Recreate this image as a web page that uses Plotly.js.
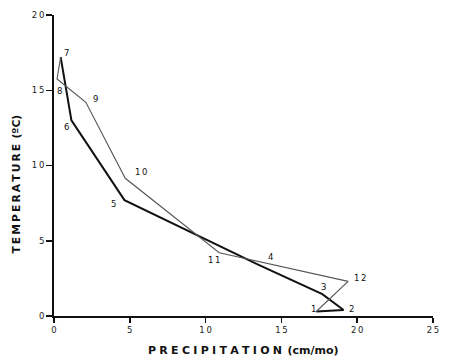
<!DOCTYPE html>
<html>
<head>
<meta charset="utf-8">
<script src="https://cdn.plot.ly/plotly-3.0.1.min.js"></script>
<style>
html,body{margin:0;padding:0;background:#fff;}
#chart{width:450px;height:361px;}
</style>
</head>
<body>
<div id="chart"></div>
<script>
// Months 1..12 : precipitation (cm/mo) and temperature (°C)
const months = ["1","2","3","4","5","6","7","8","9","10","11","12"];
const precip = [17.3, 19.1, 17.7, 13.5, 4.65, 1.15, 0.44, 0.2, 2.1, 4.7, 10.9, 19.4];
const temp   = [0.3, 0.4, 1.45, 3.4, 7.7, 13.0, 17.2, 15.75, 14.2, 9.15, 4.2, 2.3];
// label positions (data units) for month numbers
const labelX = [17.1, 19.6, 17.8, 14.3, 3.95, 0.85, 0.85, 0.35, 2.75, 5.8, 10.6, 20.2];
const labelY = [0.45, 0.45, 1.95, 3.9, 7.45, 12.55, 17.45, 14.95, 14.45, 9.6, 3.75, 2.5];
const xTicks = [0, 5, 10, 15, 20, 25];
const yTicks = [0, 5, 10, 15, 20];
const xTitle = 'PRECIPITATION';
const xUnit = '(cm/mo)';
const yTitle = 'TEMPERATURE';
const yUnit = '(ºC)';

// thick segment: Jan -> Jul ; thin segment: Jul -> Dec -> Jan
const thickIdx = [0,1,2,3,4,5,6];
const thinIdx = [6,7,8,9,10,11,0];

const traces = [
  {x: thickIdx.map(i=>precip[i]), y: thickIdx.map(i=>temp[i]), mode:'lines',
   line:{color:'#111', width:2}, hoverinfo:'skip'},
  {x: thinIdx.map(i=>precip[i]), y: thinIdx.map(i=>temp[i]), mode:'lines',
   line:{color:'#555', width:1.1}, hoverinfo:'skip'}
];

const sp = s => s.split('').join('\u2009');
const spWide = s => s.split('').join('\u2009\u200A');
const FONT = 'DejaVu Sans, Liberation Sans, sans-serif';

const annotations = months.map((m,i)=>({
  x: labelX[i], y: labelY[i], text: sp(m), showarrow:false,
  font:{family:FONT, size:8.5, color:'#111'},
  xref:'x', yref:'y'
}));
annotations.push({
  xref:'paper', yref:'paper', x:0.5, y:-0.113, xanchor:'center', yanchor:'middle',
  text:'<b>'+spWide(xTitle)+'\u2002'+xUnit+'</b>', showarrow:false,
  font:{family:FONT, size:11, color:'#111'}
});
annotations.push({
  xref:'paper', yref:'paper', x:-0.1, y:0.437, xanchor:'center', yanchor:'middle',
  textangle:-90,
  text:'<b>'+sp(yTitle)+'\u2002'+yUnit+'</b>', showarrow:false,
  font:{family:FONT, size:10.7, color:'#111'}
});

const layout = {
  width:450, height:361,
  margin:{l:54, r:17, t:15, b:45},
  paper_bgcolor:'#fff', plot_bgcolor:'#fff',
  showlegend:false,
  font:{family:FONT, color:'#111'},
  xaxis:{range:[0,25], tickvals:xTicks, ticktext:xTicks.map(v=>sp(String(v))),
    showgrid:false, zeroline:false, showline:true, linecolor:'#111', linewidth:2,
    ticks:'outside', ticklen:5, tickwidth:1.5, tickcolor:'#111',
    tickfont:{family:FONT, size:8.5, color:'#222'}},
  yaxis:{range:[0,20], tickvals:yTicks, ticktext:yTicks.map(v=>sp(String(v))),
    showgrid:false, zeroline:false, showline:true, linecolor:'#111', linewidth:2,
    ticks:'outside', ticklen:6, tickwidth:1.5, tickcolor:'#111',
    tickfont:{family:FONT, size:8.5, color:'#222'}},
  annotations: annotations
};

Plotly.newPlot('chart', traces, layout, {displayModeBar:false, staticPlot:true});
</script>
</body>
</html>
